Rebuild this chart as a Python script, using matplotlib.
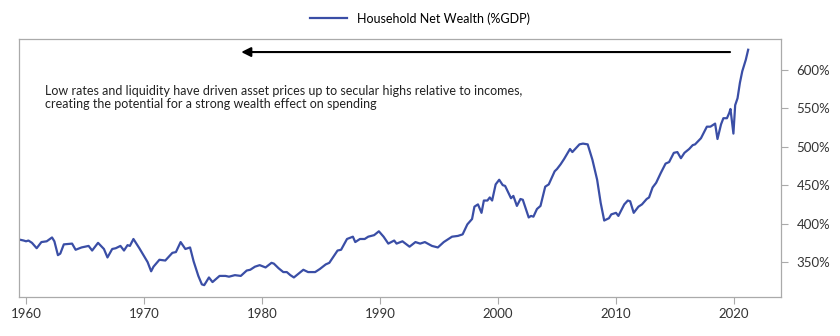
import matplotlib.pyplot as plt
import numpy as np

# household net wealth as % of GDP
years = [1959.5, 1959.8, 1960.0, 1960.2, 1960.5, 1960.9, 1961.3, 1961.75, 1962.2, 1962.4,
         1962.7, 1962.9, 1963.2, 1963.9, 1964.2, 1964.7, 1965.3, 1965.6, 1966.1, 1966.6,
         1966.9, 1967.3, 1967.6, 1968.0, 1968.3, 1968.6, 1968.8, 1969.1, 1969.6, 1970.3,
         1970.6, 1970.8, 1971.3, 1971.8, 1972.4, 1972.7, 1973.1, 1973.5, 1973.9, 1974.2,
         1974.6, 1974.9, 1975.1, 1975.5, 1975.8, 1976.4, 1976.9, 1977.2, 1977.7, 1978.2,
         1978.7, 1979.0, 1979.4, 1979.8, 1980.3, 1980.8, 1981.0, 1981.4, 1981.8, 1982.1,
         1982.4, 1982.7, 1983.5, 1983.9, 1984.5, 1984.9, 1985.4, 1985.7, 1986.1, 1986.4,
         1986.7, 1987.2, 1987.7, 1987.9, 1988.3, 1988.7, 1989.0, 1989.5, 1989.9, 1990.3,
         1990.7, 1991.2, 1991.4, 1991.9, 1992.5, 1993.0, 1993.4, 1993.8, 1994.4, 1994.9,
         1995.4, 1996.1, 1996.6, 1997.0, 1997.4, 1997.8, 1998.0, 1998.3, 1998.6, 1998.8,
         1999.1, 1999.3, 1999.5, 1999.8, 2000.1, 2000.4, 2000.6, 2001.1, 2001.3, 2001.6,
         2001.9, 2002.1, 2002.6, 2002.8, 2003.0, 2003.3, 2003.6, 2004.0, 2004.3, 2004.8,
         2005.0, 2005.3, 2005.6, 2006.1, 2006.3, 2006.9, 2007.2, 2007.6, 2008.0, 2008.4,
         2008.7, 2009.0, 2009.4, 2009.6, 2010.0, 2010.2, 2010.7, 2011.0, 2011.2, 2011.5,
         2011.9, 2012.2, 2012.6, 2012.8, 2013.1, 2013.4, 2013.8, 2014.2, 2014.5, 2014.9,
         2015.2, 2015.5, 2015.8, 2016.2, 2016.5, 2016.7, 2017.2, 2017.4, 2017.7, 2018.0,
         2018.4, 2018.6, 2018.9, 2019.1, 2019.4, 2019.6, 2019.7, 2019.95, 2020.1, 2020.3,
         2020.5, 2020.7, 2021.0, 2021.2]
wealth = [379, 378, 377, 378, 375, 368, 376, 377, 382, 377,
          359, 361, 373, 374, 366, 369, 371, 365, 375, 367,
          356, 367, 368, 371, 365, 372, 371, 380, 368, 350,
          338, 344, 353, 352, 362, 363, 376, 367, 369, 351,
          332, 321, 320, 330, 324, 332, 332, 331, 333, 332,
          339, 340, 344, 346, 343, 349, 348, 342, 337, 337,
          333, 330, 340, 337, 337, 341, 347, 349, 358, 365,
          366, 380, 383, 376, 380, 380, 383, 385, 390, 383,
          374, 378, 374, 377, 370, 376, 374, 376, 371, 369,
          376, 383, 384, 386, 399, 406, 422, 425, 414, 430,
          430, 434, 430, 451, 457, 450, 449, 433, 436, 423,
          432, 431, 408, 410, 409, 419, 423, 448, 451, 468,
          471, 477, 484, 497, 493, 503, 504, 503, 483, 457,
          427, 404, 407, 412, 414, 410, 425, 430, 429, 414,
          422, 425, 432, 434, 447, 453, 466, 478, 480, 492,
          493, 485, 492, 497, 502, 503, 511, 517, 526, 526,
          530, 510, 529, 537, 537, 544, 549, 517, 554, 563,
          583, 598, 613, 626]

xticks = [1960, 1970, 1980, 1990, 2000, 2010, 2020]
yticks = [350, 400, 450, 500, 550, 600]
label = 'Household Net Wealth (%GDP)'
note = ('Low rates and liquidity have driven asset prices up to secular highs relative to incomes,\n'
        'creating the potential for a strong wealth effect on spending')

plt.rcParams['font.family'] = ['Lato', 'DejaVu Sans']

fig = plt.figure(figsize=(8.4, 3.36), dpi=100)
ax = fig.add_axes([0.0226, 0.117, 0.9074, 0.767])

ax.plot(years, wealth, color='#3a4ea6', lw=1.6, label=label)

ax.set_xlim(1959.4, 2024.0)
ax.set_ylim(305, 640)
ax.set_xticks(xticks)
ax.set_yticks(yticks)
ax.set_yticklabels(['%d%%' % v for v in yticks])
ax.yaxis.tick_right()
ax.tick_params(axis='both', colors='#aaaaaa', labelcolor='#333333', labelsize=9.5,
               length=5, width=0.8, direction='out')
ax.tick_params(axis='y', pad=6)
for s in ax.spines.values():
    s.set_color('#aaaaaa')
    s.set_linewidth(0.9)

# arrow pointing back in time
ax.annotate('', xy=(1978.0, 623), xytext=(2019.9, 623),
            arrowprops=dict(arrowstyle='-|>', color='black', lw=1.5, mutation_scale=14))
ax.text(1961.6, 564, note, fontsize=9, color='#222222', va='center', linespacing=1.12)

fig.legend(loc='center', bbox_to_anchor=(0.5, 0.945), frameon=False, fontsize=9,
           handlelength=3.0, handletextpad=0.8)

fig.savefig('out.png', dpi=100)
